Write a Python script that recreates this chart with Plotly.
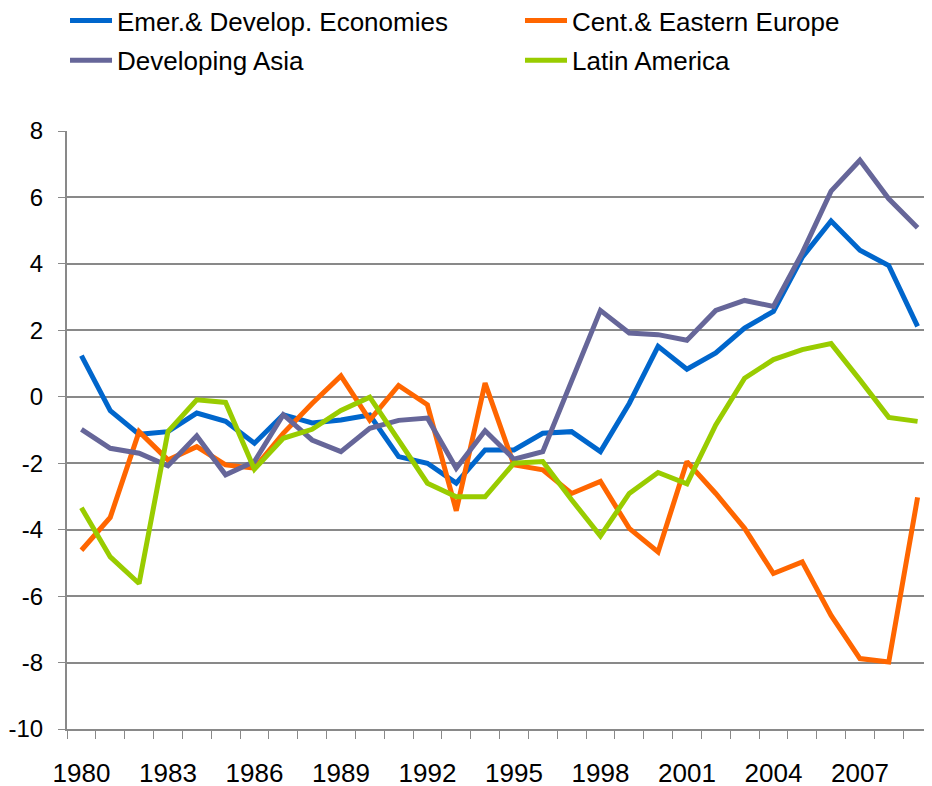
import plotly.graph_objects as go

years = list(range(1980, 2010))

emer_develop = [1.24, -0.42, -1.13, -1.05, -0.49, -0.74, -1.40, -0.54, -0.79, -0.70,
                -0.55, -1.80, -2.00, -2.60, -1.60, -1.60, -1.10, -1.05, -1.65, -0.20,
                1.52, 0.83, 1.32, 2.07, 2.57, 4.20, 5.29, 4.41, 3.95, 2.12]
cent_eastern = [-4.62, -3.63, -1.05, -1.90, -1.50, -2.05, -2.15, -1.10, -0.20, 0.63,
                -0.70, 0.34, -0.24, -3.43, 0.41, -2.05, -2.20, -2.91, -2.55, -3.96,
                -4.67, -1.95, -2.91, -3.96, -5.32, -4.97, -6.58, -7.88, -7.98, -3.03]
developing_asia = [-0.98, -1.55, -1.70, -2.08, -1.18, -2.35, -1.95, -0.54, -1.30, -1.65,
                   -0.95, -0.71, -0.64, -2.15, -1.02, -1.88, -1.65, 0.51, 2.60, 1.92,
                   1.87, 1.70, 2.60, 2.90, 2.72, 4.33, 6.19, 7.12, 5.96, 5.09]
latin_america = [-3.34, -4.82, -5.62, -1.05, -0.09, -0.17, -2.18, -1.25, -0.98, -0.41,
                 -0.01, -1.30, -2.60, -3.01, -3.01, -2.00, -1.95, -3.10, -4.19, -2.91,
                 -2.28, -2.62, -0.85, 0.56, 1.12, 1.42, 1.60, 0.51, -0.62, -0.74]

series_names = ["Emer.& Develop. Economies", "Cent.& Eastern Europe",
                "Developing Asia", "Latin America"]
series_values = [emer_develop, cent_eastern, developing_asia, latin_america]
colors = ["#0066CC", "#FF6600", "#666699", "#99CC00"]
legend_ids = ["legend", "legend2", "legend", "legend2"]

x_label_years = years[::3]
y_ticks = list(range(-10, 9, 2))
y_tick_text = [str(v) for v in y_ticks]

FONT = "Liberation Sans, Arial, sans-serif"
GRID = "#898989"

fig = go.Figure()
for i, (name, vals, col, lg) in enumerate(zip(series_names, series_values, colors, legend_ids)):
    fig.add_trace(go.Scatter(x=years, y=vals, name=name, mode="lines",
                             line=dict(color=col, width=5), legend=lg,
                             legendgroup="g%d" % i))

legend_common = dict(orientation="v", xref="paper", yref="paper",
                     xanchor="left", yanchor="top", itemwidth=42,
                     font=dict(family=FONT, size=26, color="black"),
                     bgcolor="rgba(0,0,0,0)", tracegroupgap=3)

fig.update_layout(
    width=924, height=778,
    margin=dict(l=59, r=0, t=123, b=57, autoexpand=False),
    paper_bgcolor="white", plot_bgcolor="white",
    font=dict(family=FONT, size=24, color="black"),
    showlegend=True,
    legend=dict(x=-0.0023, y=1.2241, **legend_common),
    legend2=dict(x=0.5237, y=1.2241, **legend_common),
    xaxis=dict(range=[1979.5, 2009.5], tickmode="array", tickvals=x_label_years,
               ticktext=[str(y) for y in x_label_years], ticks="", showgrid=False,
               showline=True, linecolor=GRID, linewidth=2, zeroline=False,
               automargin=False, ticklabelstandoff=20,
               tickfont=dict(family=FONT, size=26, color="black"),
               minor=dict(tickmode="array", tickvals=[y - 0.5 for y in years] + [2009.5],
                          ticks="outside", ticklen=8, tickcolor=GRID, tickwidth=1,
                          showgrid=False)),
    yaxis=dict(range=[-10, 8], tickmode="array", tickvals=y_ticks, ticktext=y_tick_text,
               ticks="outside", ticklen=7, tickcolor=GRID, tickwidth=1, showgrid=True,
               gridcolor=GRID, gridwidth=2, showline=True, linecolor=GRID,
               linewidth=2, zeroline=False, automargin=False, ticklabelstandoff=10,
               tickfont=dict(family=FONT, size=24, color="black")),
)

fig.write_html("out.html")
